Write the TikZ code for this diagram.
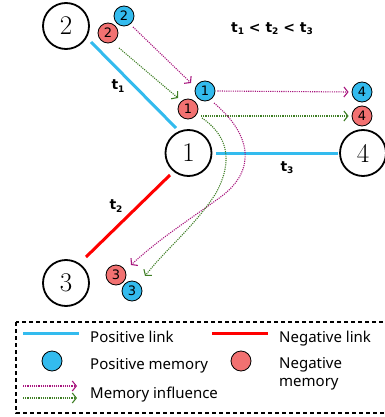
\documentclass[tikz,border=0pt]{standalone}
\usepackage{fontspec}
\newfontfamily\legendfont{Noto Sans}
\newfontfamily\memfont{DejaVu Sans}
\usetikzlibrary{arrows.meta,calc}
\definecolor{posblue}{HTML}{33BBEE}
\definecolor{negred}{HTML}{F27171}
\definecolor{linkred}{HTML}{FF0000}
\definecolor{magarrow}{HTML}{A8167E}
\definecolor{greenarrow}{HTML}{3F7F25}
\newcommand{\tsub}[1]{t\raisebox{-2.2pt}{\fontsize{9}{9}\selectfont #1}}
\tikzset{
  big/.style={circle, draw, line width=1.8pt, minimum size=46pt, inner sep=0pt, font=\fontsize{27}{27}\selectfont},
  mem/.style={circle, draw, line width=0.8pt, minimum size=20pt, inner sep=0pt, font=\memfont\fontsize{13}{13}\selectfont},
  posmem/.style={mem, fill=posblue},
  negmem/.style={mem, fill=negred},
  poslink/.style={draw=posblue, line width=3pt},
  neglink/.style={draw=linkred, line width=3pt},
  infl/.style={line width=1.1pt, dash pattern=on 1.1pt off 1.1pt, -{Straight Barb[length=4pt,width=10pt]}},
  magflow/.style={infl, draw=magarrow},
  greenflow/.style={infl, draw=greenarrow},
  tlabel/.style={font=\memfont\bfseries\fontsize{14}{14}\selectfont},
  legtext/.style={font=\legendfont\fontsize{15}{15}\selectfont, inner sep=0pt},
}
\begin{document}
\begin{tikzpicture}[x=1pt,y=-1pt]
\useasboundingbox (0,0) rectangle (384,417);
% big nodes
\node[big] (n2) at (66,26) {2};
\node[big] (n1) at (188.5,153) {1};
\node[big] (n4) at (363,153) {4};
\node[big] (n3) at (66,283) {3};
% links
\draw[poslink] ([shift={(25,16)}]n2.center) -- ([shift={(-12.5,-25)}]n1.center);
\draw[poslink] ([xshift=3.5pt]n1.east) -- ([xshift=-1pt]n4.west);
\draw[neglink] ([shift={(-18.5,22)}]n1.center) -- ([shift={(20,-26)}]n3.center);
% link labels
\node[tlabel] (t1) at (118,86) {\tsub{1}};
\node[tlabel] (t2) at (116,206) {\tsub{2}};
\node[tlabel] (t3) at (287,168) {\tsub{3}};
\node[tlabel] (order) at (272,29) {\tsub{1} < \tsub{2} < \tsub{3}};
% memories
\node[posmem] (b2) at (124,16) {2};
\node[negmem] (r2) at (108,33) {2};
\node[posmem] (b1) at (205,91) {1};
\node[negmem] (r1) at (188,109) {1};
\node[posmem] (b4) at (362,92) {4};
\node[negmem] (r4) at (362,116) {4};
\node[negmem] (r3) at (116,275) {3};
\node[posmem] (b3) at (132,291) {3};
% memory influence
\draw[magflow] ($(b2)+(9,11)$) -- ($(b1)+(-14,-8)$);
\draw[greenflow] ($(r2)+(11,15)$) -- ($(r1)+(-10,-11)$);
\draw[magflow] ([xshift=2pt]b1.east) -- ([xshift=-3pt]b4.west);
\draw[greenflow] ($(r1)+(13,7)$) -- ([xshift=-3pt]r4.west);
\draw[magflow] ($(b1)+(9,12)$) .. controls (252,135) and (256,170) .. (222,196)
   .. controls (192,218) and (160,238) .. ($(r3)+(15,-10)$);
\draw[greenflow] ($(r1)+(14,9)$) .. controls (227,135) and (234,160) .. (216,193)
   .. controls (196,225) and (165,250) .. ($(b3)+(13,-15)$);
% legend
\draw[line width=1.3pt, dash pattern=on 4pt off 3pt] (16,322) rectangle (392,413);
\draw[poslink] (23,333) -- (79,333);
\node[legtext, anchor=base west] (lpl) at (90,342) {Positive link};
\draw[neglink] (212,333) -- (268,333);
\node[legtext, anchor=base west] (lnl) at (279,342) {Negative link};
\node[posmem] (lpm) at (52,361) {};
\node[legtext, anchor=base west] (lpmt) at (90,369) {Positive memory};
\node[negmem] (lnm) at (241,361) {};
\node[legtext, anchor=base west] (lnmt) at (279,368) {Negative};
\node[legtext, anchor=base west] (lnmt2) at (279,386) {memory};
\draw[magflow] (23,386) -- (77,386);
\draw[greenflow] (23,398) -- (77,398);
\node[legtext, anchor=base west] (lmi) at (90,398) {Memory influence};
\end{tikzpicture}
\end{document}
